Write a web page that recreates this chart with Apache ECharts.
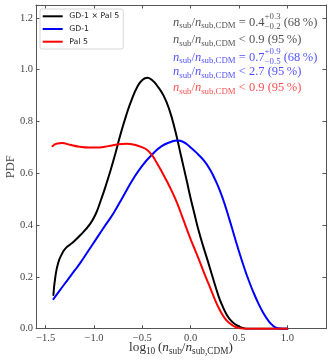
<!DOCTYPE html>
<html>
<head>
<meta charset="utf-8">
<script src="https://cdn.jsdelivr.net/npm/echarts@6/dist/echarts.min.js"></script>
<style>
  html, body { margin: 0; padding: 0; background: #fff; }
  #box { width: 332px; height: 363px; }
</style>
</head>
<body>
<div id="box"></div>
<script>
// curves
var blackX = [-1.42, -1.40, -1.37, -1.33, -1.29, -1.23, -1.14, -1.04, -0.98, -0.93, -0.88, -0.83, -0.78, -0.73, -0.67, -0.61, -0.55, -0.50, -0.45, -0.40, -0.34, -0.28, -0.22, -0.16, -0.10, -0.04, 0.00, 0.04, 0.08, 0.13, 0.18, 0.23, 0.29, 0.33, 0.37, 0.42, 0.47, 0.52, 0.56, 0.60, 0.70, 0.85, 1.00];
var blackY = [0.13, 0.20, 0.255, 0.29, 0.312, 0.33, 0.362, 0.405, 0.445, 0.495, 0.55, 0.61, 0.675, 0.745, 0.82, 0.885, 0.935, 0.96, 0.969, 0.96, 0.935, 0.90, 0.845, 0.765, 0.668, 0.57, 0.503, 0.442, 0.382, 0.318, 0.258, 0.196, 0.124, 0.087, 0.056, 0.03, 0.015, 0.005, 0.001, 0, 0, 0, 0];
var blueX = [-1.42, -1.35, -1.28, -1.20, -1.14, -1.06, -0.98, -0.90, -0.80, -0.70, -0.60, -0.50, -0.40, -0.30, -0.20, -0.14, -0.08, 0.00, 0.08, 0.14, 0.20, 0.25, 0.30, 0.35, 0.40, 0.45, 0.50, 0.55, 0.60, 0.65, 0.70, 0.75, 0.80, 0.85, 0.90, 0.95, 1.00];
var blueY = [0.114, 0.15, 0.185, 0.225, 0.255, 0.30, 0.345, 0.39, 0.445, 0.51, 0.575, 0.63, 0.672, 0.705, 0.722, 0.727, 0.722, 0.70, 0.672, 0.648, 0.615, 0.578, 0.535, 0.483, 0.423, 0.36, 0.298, 0.24, 0.187, 0.14, 0.098, 0.062, 0.033, 0.012, 0.002, 0, 0];
var redX = [-1.43, -1.38, -1.33, -1.25, -1.15, -1.05, -0.95, -0.85, -0.75, -0.66, -0.58, -0.50, -0.45, -0.40, -0.35, -0.30, -0.25, -0.20, -0.14, -0.08, 0.00, 0.05, 0.10, 0.15, 0.20, 0.25, 0.30, 0.35, 0.40, 0.45, 0.50, 0.55, 0.65, 0.80, 1.00];
var redY = [0.705, 0.715, 0.717, 0.71, 0.703, 0.70, 0.70, 0.705, 0.712, 0.714, 0.71, 0.70, 0.69, 0.67, 0.64, 0.607, 0.572, 0.535, 0.485, 0.425, 0.345, 0.30, 0.253, 0.205, 0.16, 0.113, 0.073, 0.042, 0.022, 0.009, 0.003, 0, 0, 0, 0];

var seriesNames = ['GD-1 \u00d7 Pal 5', 'GD-1', 'Pal 5'];
var seriesColors = ['#000000', '#0000ff', '#ff0000'];
var xTicks = [-1.5, -1.0, -0.5, 0.0, 0.5, 1.0];
var yTicks = [0.0, 0.2, 0.4, 0.6, 0.8, 1.0, 1.2];

// text of the upper right notes
var noteMid = ['0.4', null, '0.7', null, null];
var noteSup = ['+0.3', null, '+0.9', null, null];
var noteSub = ['\u22120.2', null, '\u22120.5', null, null];
var noteBound = [null, '0.9', null, '2.7', '0.9'];
var notePct = ['68', '95', '68', '95', '95'];
var noteColors = ['rgba(0,0,0,0.7)', 'rgba(0,0,0,0.7)', 'rgba(0,0,255,0.7)', 'rgba(0,0,255,0.7)', 'rgba(255,0,0,0.7)'];

var SERIF = '"Liberation Serif"';
var ctx = document.createElement('canvas').getContext('2d');
function textW(t, size, italic) {
    ctx.font = (italic ? 'italic ' : '') + size + 'px ' + SERIF;
    return ctx.measureText(t).width;
}
// lay out small math-like pieces one after the other
function mathLine(parts, x, base, color, big, small, center) {
    var total = 0;
    parts.forEach(function (p) {
        if (p.sup !== undefined) total += Math.max(textW(p.sup, small), textW(p.sub, small));
        else total += textW(p.t, p.s ? small : big, p.i);
    });
    var cx = center ? x - total / 2 : x;
    var out = [];
    function put(t, size, italic, dy) {
        out.push({
            type: 'text', x: cx, y: base + dy - 0.34 * size, silent: true,
            style: { text: t, fontFamily: SERIF, fontSize: size, fontStyle: italic ? 'italic' : 'normal',
                     fill: color, align: 'left', verticalAlign: 'middle' }
        });
    }
    parts.forEach(function (p) {
        if (p.sup !== undefined) {
            put(p.sup, small, false, -big * 0.55);
            put(p.sub, small, false, big * 0.25);
            cx += Math.max(textW(p.sup, small), textW(p.sub, small));
        } else {
            var size = p.s ? small : big;
            put(p.t, size, p.i, p.s ? big * 0.2 : 0);
            cx += textW(p.t, size, p.i);
        }
    });
    return out;
}
function ratioParts() {
    return [{t: 'n', i: true}, {t: 'sub', s: true}, {t: '/'}, {t: 'n', i: true}, {t: 'sub,CDM', s: true}];
}

var graphics = [];
var noteBase = [26.5, 44, 61.5, 76, 92];
for (var k = 0; k < 5; k++) {
    var parts = ratioParts();
    if (noteMid[k]) {
        parts.push({t: ' = ' + noteMid[k]});
        parts.push({sup: noteSup[k], sub: noteSub[k]});
        parts.push({t: ' (' + notePct[k] + '\u2009%)'});
    } else {
        parts.push({t: ' < ' + noteBound[k] + ' (' + notePct[k] + '\u2009%)'});
    }
    graphics = graphics.concat(mathLine(parts, 173, noteBase[k], noteColors[k], 12.5, 8.8, false));
}
var xName = [{t: 'log'}, {t: '10', s: true}, {t: '\u2009('}].concat(ratioParts(), [{t: ')'}]);
graphics = graphics.concat(mathLine(xName, 181, 352, '#333', 13.2, 9.3, true));

function pairs(xs, ys) {
    var d = [];
    for (var i = 0; i < xs.length; i++) d.push([xs[i], ys[i]]);
    return d;
}
function fmt(v) { return v.toFixed(1).replace('-', '\u2212'); }

var axisCol = '#555';
function xAx(pos, labels) {
    return {
        type: 'value', min: -1.6, max: 1.4, position: pos,
        axisLine: { onZero: false, lineStyle: { color: axisCol, width: 1 } },
        axisTick: { inside: true, length: 3.5, customValues: xTicks, lineStyle: { color: axisCol } },
        axisLabel: { show: labels, customValues: xTicks, margin: 4, fontFamily: SERIF, fontSize: 10.5, color: '#444', formatter: fmt },
        splitLine: { show: false }
    };
}
function yAx(pos, labels) {
    return {
        type: 'value', min: 0, max: 1.25, position: pos,
        axisLine: { onZero: false, show: true, lineStyle: { color: axisCol, width: 1 } },
        axisTick: { show: true, inside: true, length: 3.5, customValues: yTicks, lineStyle: { color: axisCol } },
        axisLabel: { show: labels, customValues: yTicks, margin: 3, fontFamily: SERIF, fontSize: 10.5, color: '#444', formatter: fmt },
        splitLine: { show: false }
    };
}

var yMain = yAx('left', true);
yMain.name = 'PDF';
yMain.nameLocation = 'middle';
yMain.nameGap = 19;
yMain.nameMoveOverlap = false;
yMain.nameTextStyle = { fontFamily: SERIF, fontSize: 12.5, color: '#444' };

var xs = [blackX, blueX, redX], ys = [blackY, blueY, redY];
var series = [];
for (var s = 0; s < 3; s++) {
    series.push({
        type: 'line', name: seriesNames[s], data: pairs(xs[s], ys[s]),
        xAxisIndex: 0, yAxisIndex: 0,
        symbol: 'none', smooth: 0.5,
        lineStyle: { color: seriesColors[s], width: 2, cap: 'round', join: 'round' },
        itemStyle: { color: seriesColors[s] },
        z: 2 + s
    });
}

var legendData = seriesNames.map(function (n) { return { name: n, icon: 'rect' }; });

var myChart = echarts.init(document.getElementById('box'), null, { renderer: 'canvas' });
var option = {
    animation: false,
    backgroundColor: '#fff',
    grid: { left: 36, right: 6, top: 5, bottom: 34.3, containLabel: false, outerBoundsMode: 'none' },
    legend: {
        orient: 'vertical', left: 40, top: 9,
        padding: [2.3, 4, 2.3, 2.7],
        itemWidth: 20, itemHeight: 2, itemGap: 2.7,
        borderColor: '#ccc', borderWidth: 0.8, borderRadius: 2,
        backgroundColor: 'rgba(255,255,255,0.8)',
        textStyle: { fontFamily: 'DejaVu Sans', fontSize: 7.8, lineHeight: 10, color: '#222', padding: [0, 0, 0, 1.5] },
        data: legendData
    },
    xAxis: [xAx('bottom', true), xAx('top', false)],
    yAxis: [yMain, yAx('right', false)],
    graphic: { elements: graphics },
    series: series
};
myChart.setOption(option);
</script>
</body>
</html>
